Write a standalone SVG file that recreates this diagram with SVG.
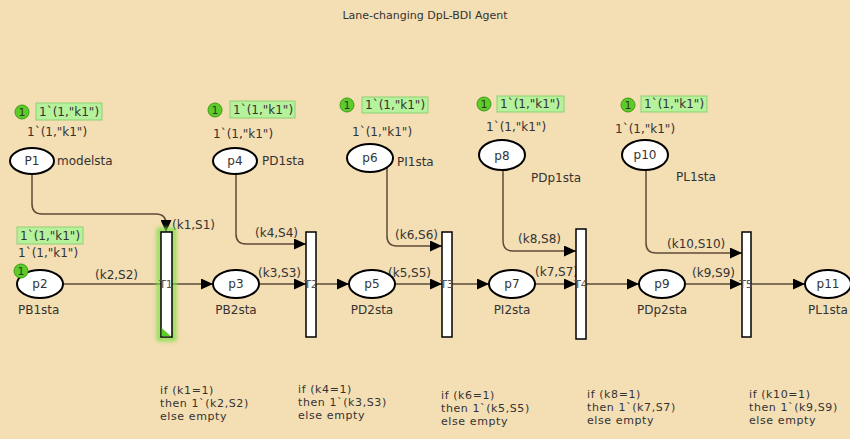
<svg xmlns="http://www.w3.org/2000/svg" width="850" height="439" viewBox="0 0 850 439">
<defs>
<marker id="ah" markerUnits="userSpaceOnUse" markerWidth="13" markerHeight="11" refX="12" refY="5.5" orient="auto">
<path d="M0,0 L12,5.5 L0,11 Z" fill="#000"/>
</marker>
<filter id="glow" x="-1" y="-0.2" width="3" height="1.4"><feGaussianBlur stdDeviation="2"/></filter>
</defs>
<style>
text{font-family:"DejaVu Sans","Liberation Sans",sans-serif;font-size:12px;fill:#333}
.title{font-size:11px}
.place{fill:#fff;stroke:#000;stroke-width:2}
.trans{fill:#fff;stroke:#000;stroke-width:1.5}
.arc{fill:none;stroke:#5c4b37;stroke-width:1.5}
.tok{fill:#5ccc26;stroke:#3f9a16;stroke-width:1}
.badge{fill:#b6f29c;stroke:#8fcf72;stroke-width:1}
.tl{font-size:11px;fill:#555}
.guard{font-size:11px;letter-spacing:0.6px}
.mid{text-anchor:middle}
</style>
<rect width="850" height="439" fill="#f4deb4"/>
<text class="title mid" x="425" y="19">Lane-changing DpL-BDI Agent</text>

<g id="connectors">
<path class="arc" d="M32,174 V204 Q32,214 42,214 H156 Q166,214 166,224 V232" marker-end="url(#ah)"/>
<path class="arc" d="M236,174 V234 Q236,244 246,244 H306" marker-end="url(#ah)"/>
<path class="arc" d="M387,168 V236 Q387,246 397,246 H442" marker-end="url(#ah)"/>
<path class="arc" d="M503,170 V241 Q503,251 513,251 H576" marker-end="url(#ah)"/>
<path class="arc" d="M646,170 V243 Q646,253 656,253 H742" marker-end="url(#ah)"/>
<path class="arc" d="M63,284 H161"/>
<path class="arc" d="M172,284 H213" marker-end="url(#ah)"/>
<path class="arc" d="M259,284 H306" marker-end="url(#ah)"/>
<path class="arc" d="M316,284 H349" marker-end="url(#ah)"/>
<path class="arc" d="M395,284 H442" marker-end="url(#ah)"/>
<path class="arc" d="M452,284 H489" marker-end="url(#ah)"/>
<path class="arc" d="M535,284 H576" marker-end="url(#ah)"/>
<path class="arc" d="M586,284 H639" marker-end="url(#ah)"/>
<path class="arc" d="M686,284 H742" marker-end="url(#ah)"/>
<path class="arc" d="M751,284 H805" marker-end="url(#ah)"/>
<text x="172" y="229">(k1,S1)</text>
<text x="95" y="279">(k2,S2)</text>
<text x="255" y="237">(k4,S4)</text>
<text x="258" y="277">(k3,S3)</text>
<text x="395" y="239">(k6,S6)</text>
<text x="388" y="277">(k5,S5)</text>
<text x="518" y="243">(k8,S8)</text>
<text x="535" y="276">(k7,S7)</text>
<text x="667" y="248">(k10,S10)</text>
<text x="692" y="277">(k9,S9)</text>
</g>

<g id="P1">
<ellipse class="place" cx="32" cy="161" rx="22" ry="13"/>
<text class="mid" x="32" y="165">P1</text>
<text x="57" y="165">modelsta</text>
<text x="27" y="136">1`(1,"k1")</text>
<circle class="tok" cx="22" cy="112" r="7"/>
<text class="mid" x="22" y="116" style="font-size:11px">1</text>
<rect class="badge" x="36" y="103" width="66" height="17"/>
<text x="39" y="116">1`(1,"k1")</text>
</g>

<g id="p4">
<ellipse class="place" cx="235" cy="161" rx="22" ry="13"/>
<text class="mid" x="235" y="165">p4</text>
<text x="262" y="165">PD1sta</text>
<text x="213" y="138">1`(1,"k1")</text>
<circle class="tok" cx="215" cy="110" r="7"/>
<text class="mid" x="215" y="114" style="font-size:11px">1</text>
<rect class="badge" x="230" y="101" width="65" height="17"/>
<text x="233" y="114">1`(1,"k1")</text>
</g>

<g id="p6">
<ellipse class="place" cx="370" cy="158" rx="23" ry="14"/>
<text class="mid" x="370" y="162">p6</text>
<text x="397" y="166">PI1sta</text>
<text x="352" y="136">1`(1,"k1")</text>
<circle class="tok" cx="347" cy="105" r="7"/>
<text class="mid" x="347" y="109" style="font-size:11px">1</text>
<rect class="badge" x="362" y="97" width="66" height="16"/>
<text x="365" y="109">1`(1,"k1")</text>
</g>

<g id="p8">
<ellipse class="place" cx="502" cy="155" rx="23" ry="15"/>
<text class="mid" x="502" y="160">p8</text>
<text x="531" y="182">PDp1sta</text>
<text x="486" y="131">1`(1,"k1")</text>
<circle class="tok" cx="484" cy="104" r="7"/>
<text class="mid" x="484" y="108" style="font-size:11px">1</text>
<rect class="badge" x="497" y="96" width="67" height="16"/>
<text x="500" y="108">1`(1,"k1")</text>
</g>

<g id="p10">
<ellipse class="place" cx="645" cy="155" rx="23" ry="15"/>
<text class="mid" x="645" y="159">p10</text>
<text x="676" y="181">PL1sta</text>
<text x="615" y="133">1`(1,"k1")</text>
<circle class="tok" cx="628" cy="105" r="7"/>
<text class="mid" x="628" y="109" style="font-size:11px">1</text>
<rect class="badge" x="641" y="96" width="66" height="16"/>
<text x="644" y="108">1`(1,"k1")</text>
</g>

<g id="p2">
<ellipse class="place" cx="40" cy="284" rx="23" ry="14"/>
<text class="mid" x="40" y="288">p2</text>
<text x="18" y="314">PB1sta</text>
<text x="18" y="257">1`(1,"k1")</text>
<rect class="badge" x="17" y="227" width="66" height="17"/>
<text x="20" y="240">1`(1,"k1")</text>
<circle class="tok" cx="21" cy="271" r="7"/>
<text class="mid" x="21" y="275" style="font-size:11px">1</text>
</g>

<g id="p3">
<ellipse class="place" cx="236" cy="284" rx="23" ry="14"/>
<text class="mid" x="236" y="288">p3</text>
<text class="mid" x="236" y="314">PB2sta</text>
</g>

<g id="p5">
<ellipse class="place" cx="372" cy="284" rx="23" ry="14"/>
<text class="mid" x="372" y="288">p5</text>
<text class="mid" x="372" y="314">PD2sta</text>
</g>

<g id="p7">
<ellipse class="place" cx="512" cy="284" rx="23" ry="14"/>
<text class="mid" x="512" y="288">p7</text>
<text class="mid" x="512" y="314">PI2sta</text>
</g>

<g id="p9">
<ellipse class="place" cx="662" cy="284" rx="23" ry="14"/>
<text class="mid" x="662" y="288">p9</text>
<text class="mid" x="662" y="314">PDp2sta</text>
</g>

<g id="p11">
<ellipse class="place" cx="828" cy="284" rx="23" ry="14"/>
<text class="mid" x="828" y="288">p11</text>
<text x="808" y="314">PL1sta</text>
</g>

<g id="T1">
<rect x="159" y="230" width="15" height="109" fill="none" stroke="#7de045" stroke-width="4" filter="url(#glow)"/>
<rect class="trans" x="161" y="232" width="11" height="105"/>
<path d="M161.7,328 L161.7,336.3 L171,336.3 Z" fill="#5ccc26"/>
<text class="tl mid" x="166" y="288">T1</text>
<text class="guard" x="160" y="394">if (k1=1)</text>
<text class="guard" x="160" y="407">then 1`(k2,S2)</text>
<text class="guard" x="160" y="420">else empty</text>
</g>

<g id="T2">
<rect class="trans" x="306" y="232" width="10" height="105"/>
<text class="tl mid" x="311" y="288">T2</text>
<text class="guard" x="298" y="393">if (k4=1)</text>
<text class="guard" x="298" y="406">then 1`(k3,S3)</text>
<text class="guard" x="298" y="419">else empty</text>
</g>

<g id="T3">
<rect class="trans" x="442" y="232" width="10" height="105"/>
<text class="tl mid" x="447" y="288">T3</text>
<text class="guard" x="441" y="399">if (k6=1)</text>
<text class="guard" x="441" y="412">then 1`(k5,S5)</text>
<text class="guard" x="441" y="425">else empty</text>
</g>

<g id="T4">
<rect class="trans" x="576" y="229" width="10" height="110"/>
<text class="tl mid" x="581" y="288">T4</text>
<text class="guard" x="587" y="398">if (k8=1)</text>
<text class="guard" x="587" y="411">then 1`(k7,S7)</text>
<text class="guard" x="587" y="424">else empty</text>
</g>

<g id="T5">
<rect class="trans" x="742" y="232" width="9" height="105"/>
<text class="tl mid" x="746" y="288">T5</text>
<text class="guard" x="749" y="398">if (k10=1)</text>
<text class="guard" x="749" y="411">then 1`(k9,S9)</text>
<text class="guard" x="749" y="424">else empty</text>
</g>
</svg>
